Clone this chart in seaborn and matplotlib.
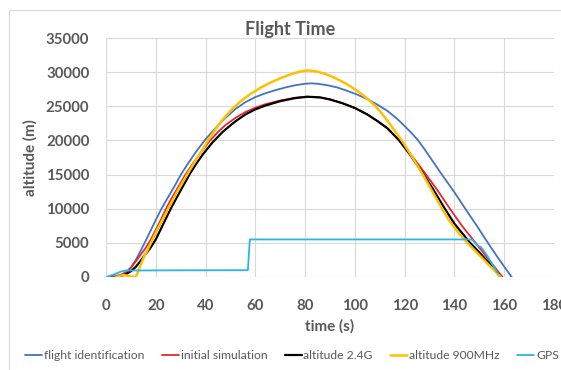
import matplotlib
matplotlib.use("Agg")
import matplotlib.pyplot as plt
import matplotlib.patches as mpatches
import pandas as pd
import seaborn as sns

# ---- data (time in s, altitude in m) ----
flight_id_t = [0, 2, 4, 6, 8, 10, 12, 14, 16, 18, 20, 22, 24, 26, 28, 30, 33, 36, 39.6, 42, 45, 48,
               52, 56, 60, 64, 68, 72, 76, 80, 82.5, 85, 89, 93, 97, 101, 105, 109, 113, 117, 120,
               123, 125.4, 128, 131, 134, 137, 140, 143, 146, 149, 152, 155, 158, 161, 163]
flight_id_alt = [0, 40, 150, 350, 620, 1400, 2500, 3900, 5350, 6850, 8350, 9800, 11100, 12350,
                 13600, 14950, 16650, 18250, 20000, 21000, 22200, 23300, 24600, 25600, 26350, 26900,
                 27350, 27750, 28080, 28300, 28360, 28300, 28080, 27750, 27250, 26700, 26050, 25250,
                 24350, 23150, 22100, 21000, 20000, 18700, 17100, 15500, 13950, 12400, 10750, 9100,
                 7500, 5800, 4150, 2550, 1000, 0]

init_sim_t = [2, 4, 6, 8, 10, 12, 14, 16, 18, 20, 22, 24, 26, 28, 30, 32, 35, 38, 41.6, 45, 48, 52,
              56, 60, 64, 70, 76, 80, 86, 90, 95, 100, 105, 109, 113, 117.8, 123, 128.6, 133,
              137.8, 143, 148.5, 154, 159.3]
init_sim_alt = [0, 80, 300, 700, 1350, 2300, 3300, 4300, 5500, 6900, 8350, 9900, 11300, 12550,
                13800, 15050, 16650, 18200, 19900, 21250, 22250, 23300, 24150, 24800, 25300, 25850,
                26250, 26400, 26300, 26000, 25450, 24750, 23800, 22850, 21800, 20000, 17700, 15000,
                12800, 10200, 7500, 5000, 2450, 0]

alt24_t = [4, 6, 8, 10, 12, 14, 16, 18, 20, 22, 24, 26, 28, 30, 32, 33.5, 36, 39, 43, 47, 52, 56,
           60, 64, 70, 76, 81, 86, 90, 95, 100, 105, 109, 113, 117.8, 122, 127.3, 131, 135.8, 140,
           146.3, 150, 154, 158.6]
alt24_alt = [0, 150, 400, 850, 1500, 2400, 3400, 4350, 5500, 7000, 8500, 10000, 11350, 12700,
             14000, 15000, 16450, 18000, 19800, 21300, 22800, 23800, 24550, 25100, 25750, 26200,
             26400, 26300, 26000, 25450, 24750, 23800, 22850, 21800, 20000, 18000, 15200, 13100,
             10200, 7800, 5000, 3600, 2000, 0]

alt900_t = [4, 5.5, 7, 8.5, 10, 11.9, 12.8, 13.6, 15, 16.5, 18, 20, 22, 25, 28, 30, 32.6, 35, 38,
            41, 44, 47, 50, 54, 58, 62, 66, 70, 74, 78, 81, 84, 88, 92, 96, 100, 103, 106, 108,
            110, 113.5, 116, 119.2, 123, 127.3, 131, 134.7, 138, 142, 146, 150, 154, 158.6]
alt900_alt = [0, 150, 300, 200, 60, 0, 700, 1500, 2740, 3800, 5000, 6500, 7900, 10000, 12100,
              13400, 15000, 16450, 18200, 20000, 21650, 23100, 24350, 25700, 26800, 27700, 28450,
              29100, 29650, 30100, 30250, 30150, 29750, 29150, 28400, 27500, 26700, 25800, 25100,
              24300, 22700, 21400, 19800, 17600, 15000, 12600, 10200, 8200, 6300, 4700, 3200, 1700, 0]

gps_t = [0, 3, 6, 8, 30, 57, 57.8, 100, 147, 148.5, 149.5, 150.5, 151.5, 153, 155, 157.5]
gps_alt = [0, 350, 800, 950, 980, 1000, 5500, 5500, 5500, 4900, 4500, 4450, 4000, 3200, 2000, 500]

series_names = ["flight identification", "initial simulation", "altitude 2.4G",
                "altitude 900MHz", "GPS"]
series_colors = ["#4472C4", "#E8262C", "#000000", "#FFC000", "#2BB5E3"]
series_widths = [1.3, 1.3, 1.6, 1.8, 1.3]

x_ticks = [0, 20, 40, 60, 80, 100, 120, 140, 160, 180]
y_ticks = [0, 5000, 10000, 15000, 20000, 25000, 30000, 35000]

frames = []
for name, t, a in [(series_names[0], flight_id_t, flight_id_alt),
                   (series_names[1], init_sim_t, init_sim_alt),
                   (series_names[2], alt24_t, alt24_alt),
                   (series_names[3], alt900_t, alt900_alt),
                   (series_names[4], gps_t, gps_alt)]:
    frames.append(pd.DataFrame({"time": t, "altitude": a, "series": name}))
df = pd.concat(frames, ignore_index=True)

sns.set_style("white")
plt.rcParams["font.family"] = ["Lato", "DejaVu Sans"]

W, H = 561, 370
fig = plt.figure(figsize=(W / 100, H / 100), dpi=100)
ax = fig.add_axes([106 / W, 1 - 277 / H, (554 - 106) / W, (277 - 38) / H])

text_gray = "#595959"
grid_gray = "#D9D9D9"

for name, col, lw in zip(series_names, series_colors, series_widths):
    sns.lineplot(data=df[df["series"] == name], x="time", y="altitude", ax=ax,
                 color=col, linewidth=lw, sort=False, estimator=None, label=name, legend=False)

ax.set_xlim(0, 180)
ax.set_ylim(0, 35000)
ax.set_xticks(x_ticks)
ax.set_yticks(y_ticks)
ax.set_xticklabels([str(v) for v in x_ticks])
ax.set_yticklabels([str(v) for v in y_ticks])
ax.grid(True, color=grid_gray, linewidth=0.8)
ax.set_axisbelow(True)
for s in ax.spines.values():
    s.set_visible(False)
ax.tick_params(axis="both", length=0, labelsize=10.8, labelcolor=text_gray)
ax.tick_params(axis="x", pad=16)
ax.tick_params(axis="y", pad=12)
for lab in ax.get_xticklabels() + ax.get_yticklabels():
    lab.set_fontweight("bold")

ax.set_xlabel("time (s)", fontsize=11, fontweight="bold", color=text_gray, labelpad=4)
ax.set_ylabel("altitude (m)", fontsize=11, fontweight="bold", color=text_gray, labelpad=6)

fig.text(290 / W, 1 - 30 / H, "Flight Time", ha="center", va="center",
         fontsize=13, fontweight="bold", color=text_gray)

# chart area border
fig.patches.append(mpatches.Rectangle((9 / W, -0.05), 1.1, 1 - 10 / H + 0.05,
                                      transform=fig.transFigure, fill=False,
                                      edgecolor=grid_gray, linewidth=0.8))

handles, labels = ax.get_legend_handles_labels()
fig.legend(handles, labels, loc="center", bbox_to_anchor=(292 / W, 1 - 355.5 / H), ncol=5,
           frameon=False, fontsize=8.7, labelcolor=text_gray, handlelength=1.4,
           handletextpad=0.15, columnspacing=1.45)

fig.savefig("out.png", dpi=100)
